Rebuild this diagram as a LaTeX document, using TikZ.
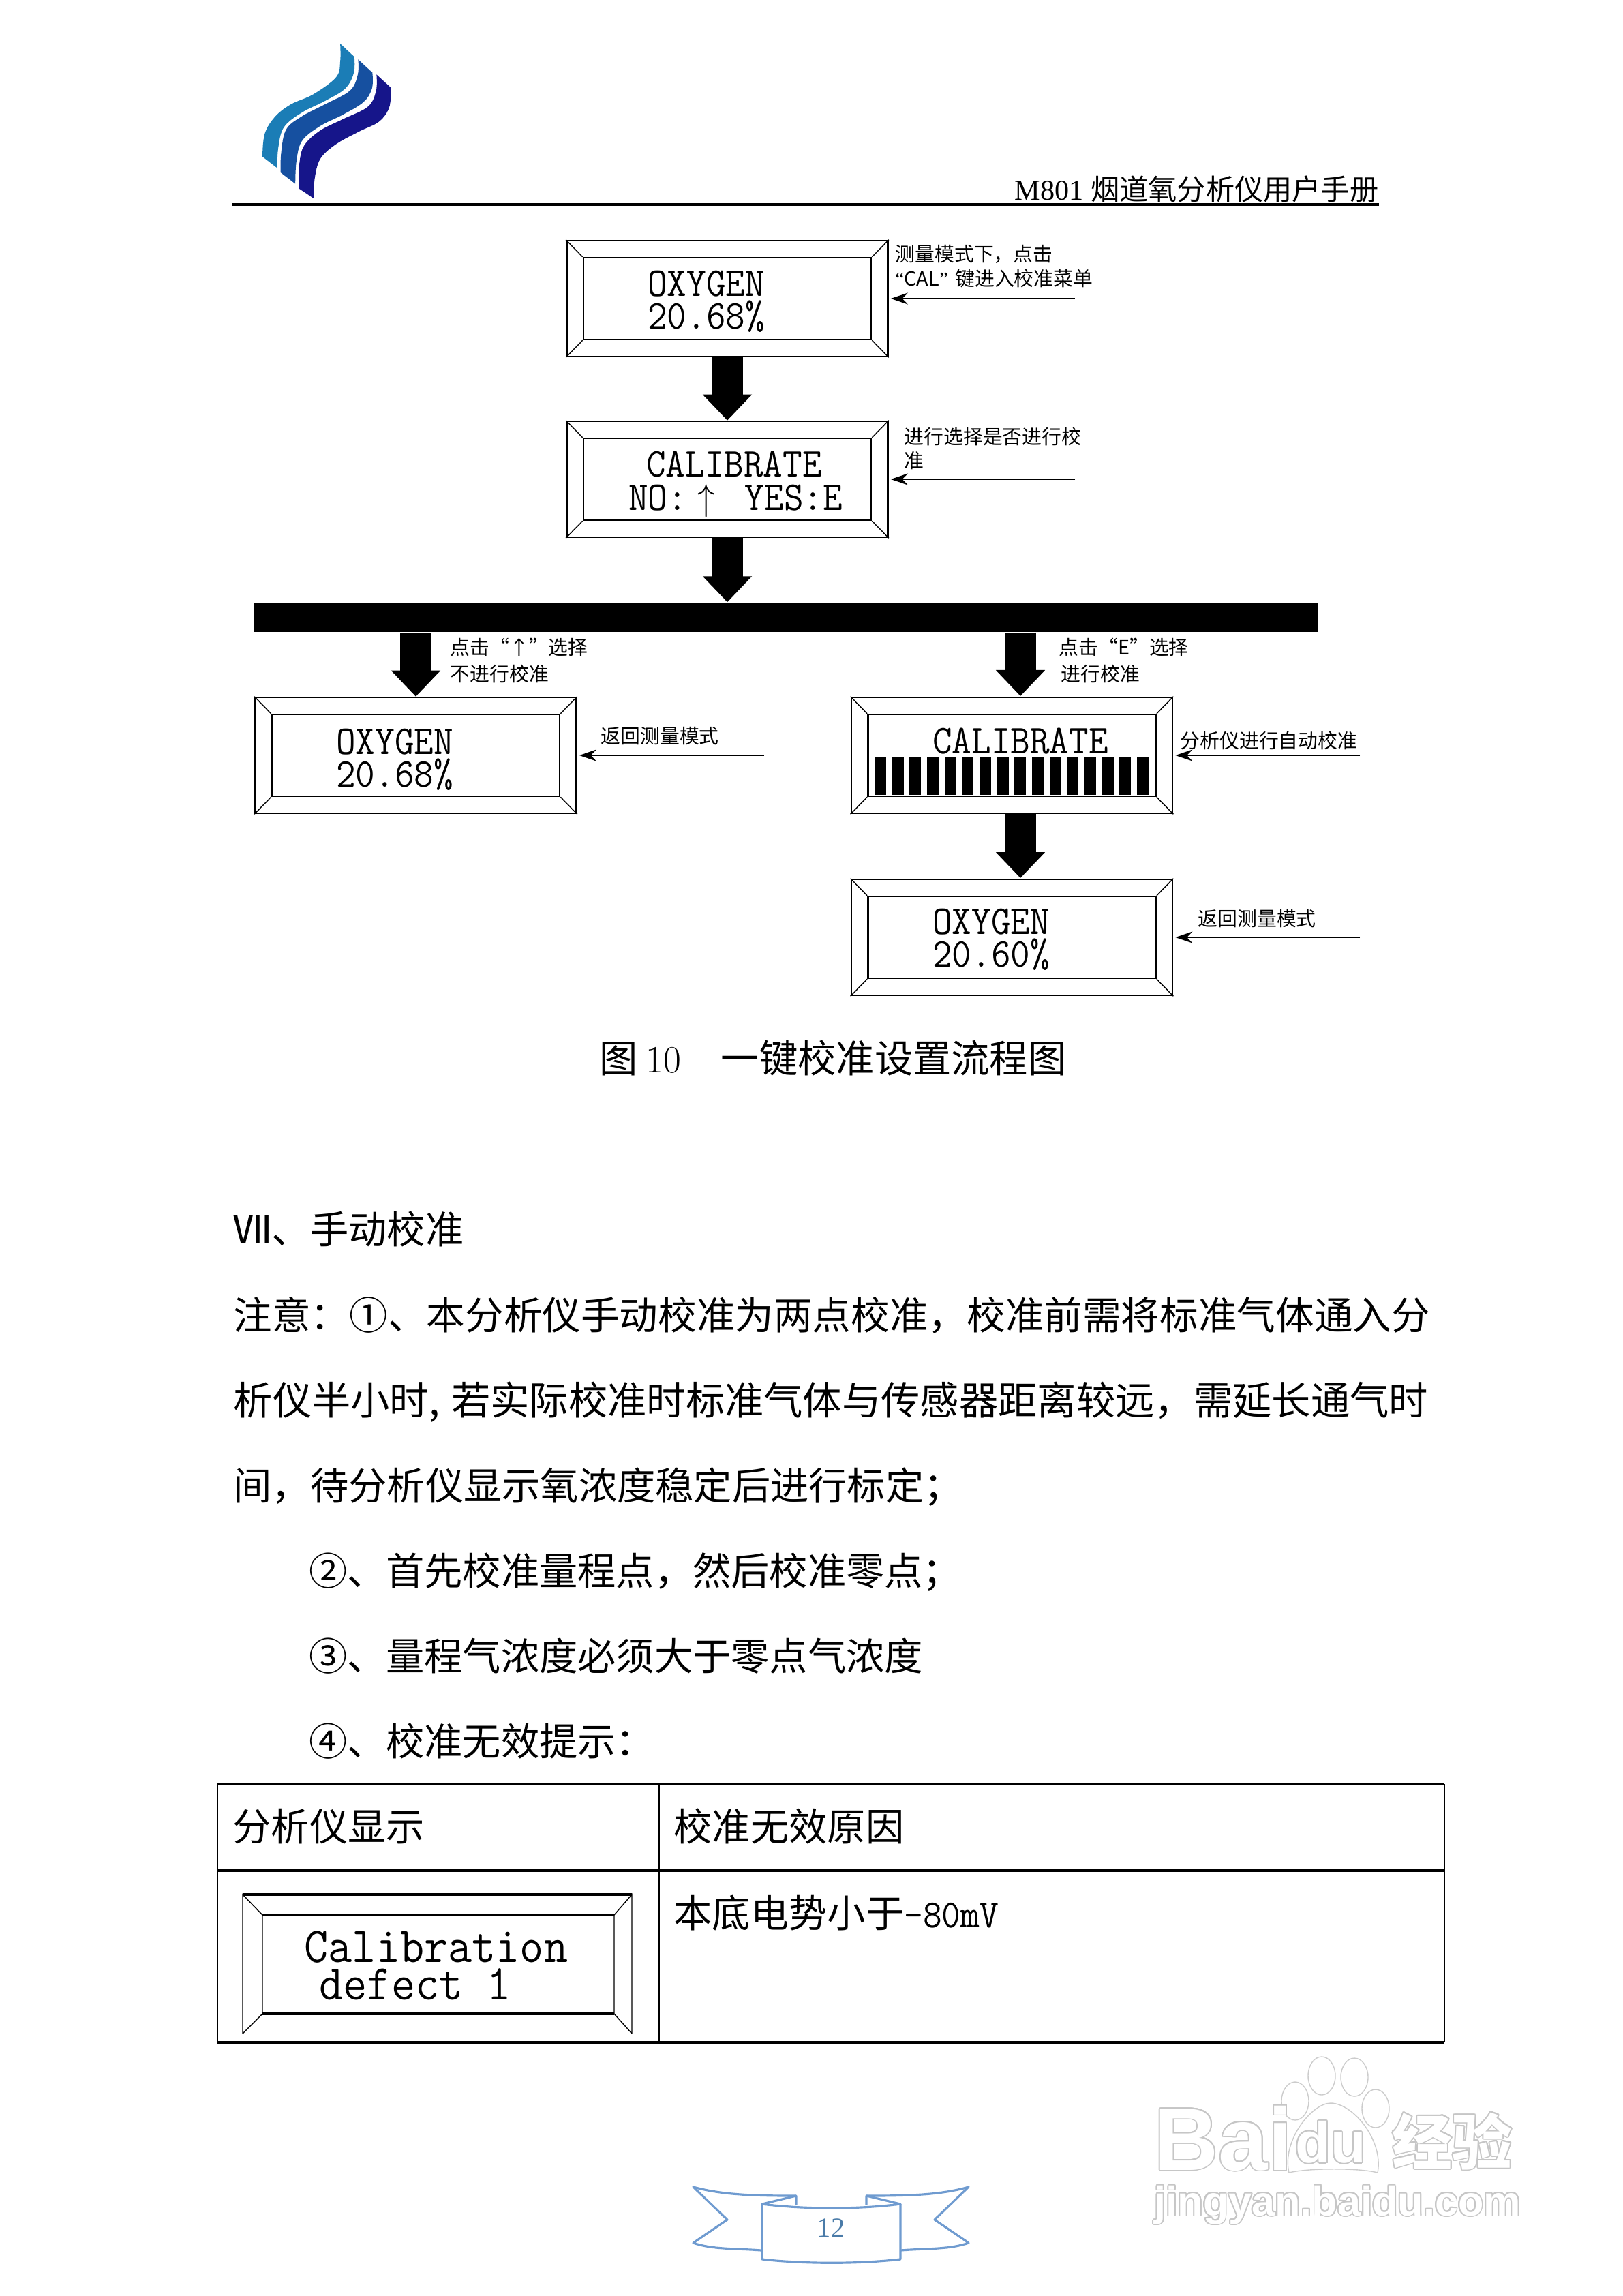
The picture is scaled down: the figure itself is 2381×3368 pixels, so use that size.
\documentclass[tikz,border=0pt]{standalone}
\usepackage{fontspec}
\usepackage{xcolor}
\usepackage{contour}
\usetikzlibrary{calc,arrows.meta,positioning}
\setmainfont{Liberation Serif}
\newfontfamily\cjk{Noto Sans CJK SC}
\newfontfamily\wmsans{Liberation Sans}
\contourlength{0.5pt}
\newcommand{\tallt}[1]{\scalebox{1}[1.08]{#1}}
\definecolor{logoa}{HTML}{1B7DB6}
\definecolor{logob}{HTML}{1650A0}
\definecolor{logoc}{HTML}{16158A}
\definecolor{ribbonc}{HTML}{6F9BD0}
\definecolor{pagenoc}{HTML}{4A7BA8}
\tikzset{
  bigar/.style={-{Triangle[length=0.38cm,width=0.70cm]},line width=0.46cm,black},
  ptr/.style={-{Stealth[length=0.25cm,width=0.17cm]},line width=0.6pt,shorten >=0.03cm},
  panel/.style={draw,line width=0.7pt,minimum width=4.71cm,minimum height=1.70cm,inner sep=0pt},
  screen/.style={draw,line width=0.7pt,minimum width=4.22cm,minimum height=1.20cm,inner sep=0pt},
  lcd/.style={inner sep=0pt,font=\ttfamily\fontsize{15.8}{17}\selectfont},
  note/.style={inner sep=0pt,anchor=west,font=\cjk\fontsize{8.2}{10}\selectfont},
  para/.style={inner sep=0pt,anchor=base west,font=\cjk\fontsize{16}{18}\selectfont},
  wm/.style={inner sep=0pt,font=\wmsans\bfseries}
}
\begin{document}
\begin{tikzpicture}[x=0.01cm,y=-0.01cm]
\useasboundingbox (0,0) rectangle (2381,3368);
\begin{scope}[shift={(360,50)},x=0.00333cm,y=-0.00333cm]
\fill[logoa] plot[smooth,tension=0.6] coordinates {(418,42) (418,120) (400,190) (300,265) (200,310) (130,365) (85,440) (75,540)} -- plot[smooth,tension=0.6] coordinates {(140,590) (145,500) (170,410) (250,345) (350,295) (440,240) (478,170) (480,100)} -- cycle;
\fill[logob] plot[smooth,tension=0.6] coordinates {(497,112) (495,180) (460,250) (350,310) (250,362) (180,420) (158,520) (155,610)} -- plot[smooth,tension=0.6] coordinates {(220,660) (225,560) (250,470) (330,405) (430,355) (520,300) (558,240) (560,170)} -- cycle;
\fill[logoc] plot[smooth,tension=0.6] coordinates {(578,178) (576,250) (540,320) (430,375) (330,425) (260,490) (238,570) (235,680)} -- plot[smooth,tension=0.6] coordinates {(302,725) (305,640) (330,550) (400,485) (500,430) (590,385) (635,320) (640,235)} -- cycle;
\end{scope}
\draw[line width=1.4pt] (340,300)--(2023,300);
\node[inner sep=0pt,anchor=base east,font=\fontsize{12}{14}\selectfont] (head) at (2023,293) {M801 {\cjk 烟道氧分析仪用户手册}};
\foreach \id/\cx/\cy in {1/1067/438,2/1067/703,3/610/1108,4/1484.5/1108,5/1484.5/1375}{
  \node[panel] (pan\id) at (\cx,\cy) {};
  \node[screen] (scr\id) at (\cx,\cy) {};
  \foreach \c in {north west,north east,south west,south east}{\draw[thin] (pan\id.\c)--(scr\id.\c);}
}
\node[lcd] (oxya) at (1036,416) {\tallt{OXYGEN}};
\node[lcd] (vala) at (1036,464) {\tallt{20.68\%}};
\node[lcd] (cala) at (1077,681) {\tallt{CALIBRATE}};
\node[lcd] (nob) at (1079,735) {\tallt{NO:\;$\uparrow$\;\ YES:E}};
\node[lcd] (oxyc) at (579,1088) {\tallt{OXYGEN}};
\node[lcd] (valc) at (579,1136) {\tallt{20.68\%}};
\node[lcd] (cald) at (1497,1087) {\tallt{CALIBRATE}};
\node[lcd] (oxye) at (1454,1352) {\tallt{OXYGEN}};
\node[lcd] (vale) at (1454,1400) {\tallt{20.60\%}};
\foreach \i in {0,...,15}{\fill ({1283+\i*25.67},1111) rectangle ({1300+\i*25.67},1166);}
\node[fill=black,inner sep=0pt,minimum width=15.61cm,minimum height=0.43cm] (bar) at (1153.5,905.5) {};
\coordinate (rt) at (1497,1021);
\coordinate (rb) at (1497,1288);
\draw[bigar] (pan1.south)--(pan2.north);
\draw[bigar] (pan2.south)--(bar.north -| pan2);
\draw[bigar] (bar.south -| pan3)--(pan3.north);
\draw[bigar] (bar.south -| rt)--(rt);
\draw[bigar] (pan4.south -| rt)--(rb);
\coordinate (enda) at (1577,438);
\coordinate (endb) at (1577,703);
\coordinate (endc) at (1121,1108);
\coordinate (endd) at (1995,1108);
\coordinate (ende) at (1995,1375);
\draw[ptr] (enda)--(pan1.east);
\draw[ptr] (endb)--(pan2.east);
\draw[ptr] (endc)--(pan3.east);
\draw[ptr] (endd)--(pan4.east);
\draw[ptr] (ende)--(pan5.east);
\node[note] (na) at (1313,373) {测量模式下，点击};
\node[note] (nb) at (1313,409) {{\rmfamily “}CAL{\rmfamily ”}\hspace{3pt}键进入校准菜单};
\node[note] (nc) at (1326,640) {进行选择是否进行校};
\node[note] (nd) at (1326,676) {准};
\node[note] (ne) at (660,949) {点击“↑”选择};
\node[note] (nf) at (660,988) {不进行校准};
\node[note] (ng) at (1553,949) {点击“E”选择};
\node[note] (nh) at (1556,988) {进行校准};
\node[note] (ni) at (881,1080) {返回测量模式};
\node[note] (nj) at (1731,1086) {分析仪进行自动校准};
\node[note] (nk) at (1757,1348) {返回测量模式};
\node[para] (cap) at (879,1573) {图\hspace{0.2em}{\fontfamily{lmr}\selectfont 10}\hspace{1.05em}一键校准设置流程图};
\node[para] (la) at (342,1824) {Ⅶ、手动校准};
\node[para,font=\cjk\fontsize{16.1}{18}\selectfont] (lb) at (342,1950) {注意：①、本分析仪手动校准为两点校准，校准前需将标准气体通入分};
\node[para,font=\cjk\fontsize{16.3}{18}\selectfont] (lc) at (342,2075) {析仪半小时,\hspace{4.8pt}若实际校准时标准气体与传感器距离较远，需延长通气时};
\node[para] (ld) at (342,2200) {间，待分析仪显示氧浓度稳定后进行标定；};
\node[para] (le) at (453,2325) {②、首先校准量程点，然后校准零点；};
\node[para] (lf) at (453,2450) {③、量程气浓度必须大于零点气浓度};
\node[para] (lg) at (453,2575) {④、校准无效提示：};
\draw[line width=1pt] (319,2617)--(2119,2617);
\draw[line width=1pt] (319,2744)--(2119,2744);
\draw[line width=1pt] (319,2996)--(2119,2996);
\draw[line width=0.5pt] (319,2617)--(319,2996);
\draw[line width=0.5pt] (967,2617)--(967,2996);
\draw[line width=0.5pt] (2119,2617)--(2119,2996);
\node[para] (tha) at (341,2700) {分析仪显示};
\node[para] (thb) at (988,2700) {校准无效原因};
\node[para] (tdb) at (988,2827) {本底电势小于{\ttfamily\fontsize{15.3}{18}\selectfont\tallt{-80mV}}};
\draw[line width=0.9pt] (356,2779)--(927,2779);
\draw[line width=0.9pt] (385,2809)--(901,2809);
\draw[line width=0.9pt] (385,2954)--(901,2954);
\draw[thin] (356,2983)--(356,2779)--(385,2809)--(385,2954)--(356,2983);
\draw[thin] (927,2983)--(927,2779)--(901,2809)--(901,2954)--(927,2983);
\node[lcd,anchor=base west,font=\ttfamily\fontsize{19.4}{21}\selectfont] (defa) at (446,2878) {\tallt{Calibration}};
\node[lcd,anchor=base west,font=\ttfamily\fontsize{19.4}{21}\selectfont] (defb) at (468,2933) {\tallt{defect 1}};
\draw[gray!40,thin,fill=white] (1891,3187) .. controls (1880,3140) and (1925,3085) .. (1952,3085) .. controls (1985,3085) and (2030,3140) .. (2021,3187) .. controls (1995,3180) and (1920,3180) .. (1891,3187) -- cycle;
\foreach \tx/\ty in {1900/3082,1939/3045,1987/3047,2018/3093}{\draw[gray!40,thin] (\tx,\ty) ellipse (20 and 28);}
\node[wm,anchor=base west,font=\wmsans\bfseries\fontsize{37}{38}\selectfont] (wba) at (1693,3183) {\contour{gray!45}{\textcolor{white}{Bai}}};
\node[wm,font=\wmsans\bfseries\fontsize{24}{26}\selectfont] (wdu) at (1952,3143) {\contour{gray!45}{\textcolor{white}{du}}};
\node[wm,anchor=base west,font=\cjk\bfseries\fontsize{25}{27}\selectfont] (wjy) at (2042,3175) {\contour{gray!45}{\textcolor{white}{经验}}};
\node[wm,anchor=base west,font=\wmsans\bfseries\fontsize{17.4}{18}\selectfont] (wur) at (1693,3250) {\contour{gray!45}{\textcolor{white}{jingyan.baidu.com}}};
\draw[ribbonc,line width=0.9pt,line join=round] (1117,3301) .. controls (1080,3298) and (1045,3300) .. (1017,3290)--(1067,3256)--(1017,3208) .. controls (1060,3220) and (1110,3221) .. (1168,3221)--(1168,3234);
\draw[ribbonc,line width=0.9pt,line join=round] (1321,3301) .. controls (1358,3298) and (1393,3300) .. (1421,3290)--(1371,3256)--(1421,3208) .. controls (1380,3220) and (1330,3221) .. (1271,3221)--(1271,3234);
\draw[ribbonc,line width=0.9pt,line join=round] (1168,3221)--(1118,3233) .. controls (1180,3241) and (1260,3241) .. (1321,3233)--(1271,3221);
\draw[ribbonc,line width=0.9pt,line join=round] (1118,3233)--(1118,3314) .. controls (1180,3321) and (1260,3321) .. (1321,3314)--(1321,3233);
\node[inner sep=0pt,text=pagenoc,font=\fontsize{11.5}{13}\selectfont] (pageno) at (1219,3268) {12};
\end{tikzpicture}
\end{document}
